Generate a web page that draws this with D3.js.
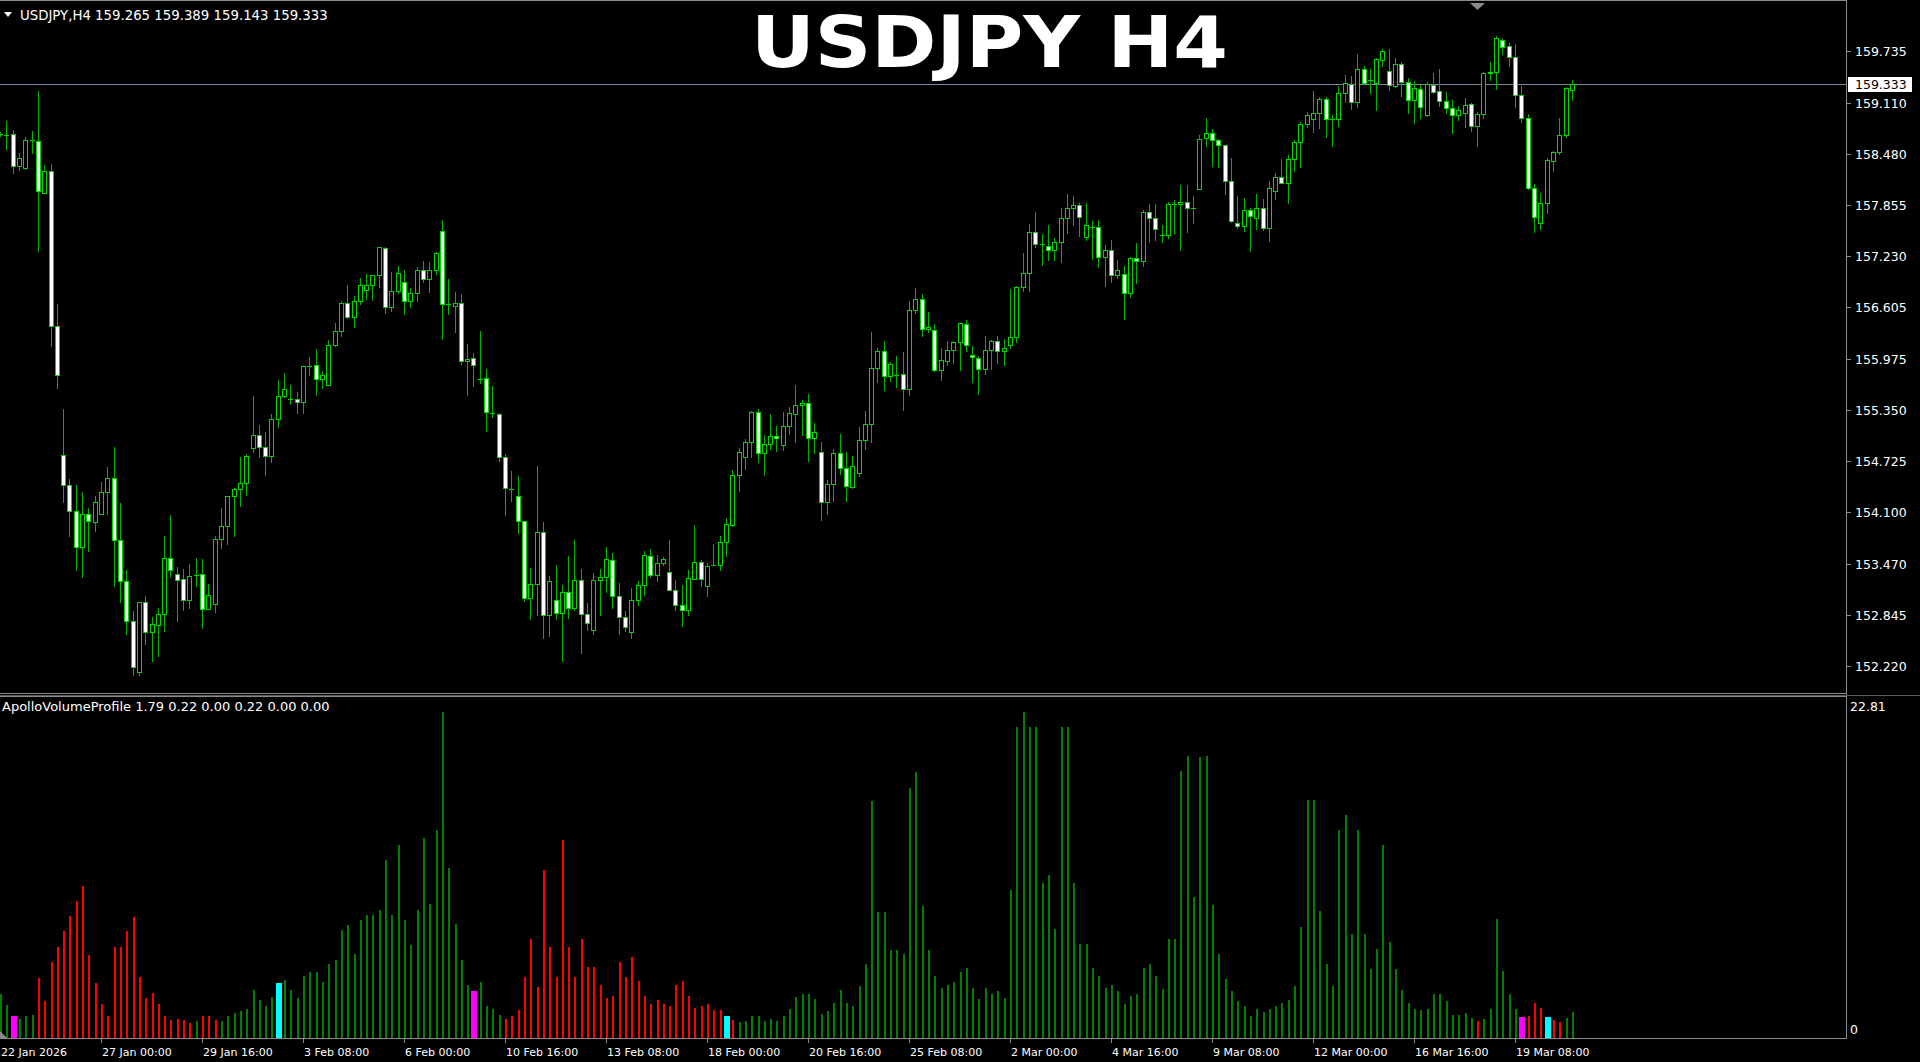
<!DOCTYPE html>
<html><head><meta charset="utf-8">
<script src="https://cdn.jsdelivr.net/npm/d3@7"></script>
<style>html,body{margin:0;padding:0;background:#000;overflow:hidden}</style>
</head><body>
<svg id="chart" width="1920" height="1062"></svg>
<script>
// ---------------- DATA ----------------
const symbolTitle = "USDJPY H4";
const headerText = "USDJPY,H4  159.265 159.389 159.143 159.333";
const indicatorText = "ApolloVolumeProfile 1.79 0.22 0.00 0.22 0.00 0.00";
const currentPrice = 159.333;

const priceTicks = [159.735,159.110,158.480,157.855,157.230,156.605,155.975,155.350,154.725,154.100,153.470,152.845,152.220];
const timeLabels = ["22 Jan 2026","27 Jan 00:00","29 Jan 16:00","3 Feb 08:00","6 Feb 00:00","10 Feb 16:00","13 Feb 08:00","18 Feb 00:00","20 Feb 16:00","25 Feb 08:00","2 Mar 00:00","4 Mar 16:00","9 Mar 08:00","12 Mar 00:00","16 Mar 16:00","19 Mar 08:00"];
const timeLabelBars = [0,16,32,48,64,80,96,112,128,144,160,176,192,208,224,240];
const volumeAxisMax = 22.81;

const opens = [158.72,158.71,158.72,158.33,158.313,158.65,158.642,158.007,158.276,156.379,
154.803,154.432,154.121,153.676,154.075,153.982,154.084,154.353,154.52,153.76,
153.259,152.772,152.146,153.008,152.637,152.716,152.855,153.537,153.342,153.287,
153.027,153.33,153.342,152.911,152.98,153.769,153.931,154.293,154.386,154.455,
154.882,155.049,154.896,154.783,155.243,155.516,155.484,155.484,155.443,155.89,
155.895,155.732,155.659,156.148,156.311,156.657,156.49,156.685,156.82,156.881,
156.995,157.333,156.612,156.811,156.913,156.677,156.779,157.064,156.95,157.064,
157.54,156.645,156.628,156.657,155.944,155.985,155.732,155.74,155.31,155.3,
154.771,154.388,154.294,153.989,153.052,153.223,153.854,152.84,153.032,152.869,
153.121,152.93,153.272,152.861,152.665,153.276,153.305,153.516,153.081,152.82,
152.637,153.032,153.207,153.569,153.337,153.48,153.366,153.154,152.963,152.91,
153.288,153.488,153.195,153.46,153.46,153.736,153.948,154.551,154.779,154.958,
155.321,154.824,154.934,155.027,154.918,155.149,155.30,155.406,155.434,155.007,
154.832,154.229,154.449,154.823,154.636,154.404,154.579,154.986,155.182,155.862,
156.066,155.768,155.78,155.789,155.605,156.567,156.705,156.338,156.33,155.842,
155.944,156.078,156.18,156.404,156.021,155.992,155.85,156.086,156.188,156.074,
156.147,156.237,156.852,157.023,157.532,157.377,157.357,157.304,157.41,157.695,
157.817,157.854,157.471,157.593,157.593,157.218,157.308,156.995,157.011,156.779,
157.206,157.174,157.776,157.695,157.491,157.491,157.866,157.866,157.891,157.817,
158.054,158.673,158.734,158.652,158.591,158.151,157.642,157.601,157.797,157.703,
157.825,157.581,158.029,158.204,158.123,158.42,158.624,158.844,158.905,158.986,
159.149,158.913,158.913,159.223,159.337,159.121,159.52,159.386,159.353,159.63,
159.5,159.312,159.581,159.365,159.141,159.28,158.958,159.325,159.251,159.129,
159.047,158.958,158.978,159.088,158.824,158.966,159.467,159.487,159.874,159.801,
159.663,159.202,158.917,158.062,157.634,157.879,158.4,158.502,158.714,159.265];

const highs = [158.75,158.88,158.78,158.49,158.684,158.76,159.245,158.34,158.36,156.648,
155.359,154.502,154.432,154.353,154.154,154.293,154.464,154.65,154.896,154.21,
153.388,152.888,153.008,153.073,152.823,152.925,153.806,154.07,153.435,153.412,
153.472,153.546,153.528,153.226,153.806,154.154,154.293,154.4,154.78,154.817,
155.522,155.164,155.08,155.304,155.716,155.801,155.659,155.569,155.887,155.993,
156.099,155.822,156.201,156.412,156.685,156.873,156.746,156.962,157.011,157.003,
157.349,157.349,157.036,157.113,157.064,156.84,157.097,157.174,157.154,157.288,
157.675,156.95,156.791,156.771,156.16,156.046,156.319,155.854,155.646,155.313,
154.812,154.6,154.539,153.997,153.419,154.665,153.981,153.325,153.459,153.207,
153.561,153.765,153.406,152.991,153.358,153.41,153.675,153.602,153.235,152.897,
153.174,153.256,153.622,153.651,153.582,153.557,153.765,153.276,153.207,153.398,
153.94,153.52,153.48,153.712,153.814,154.03,154.612,154.885,154.995,155.341,
155.361,155.048,155.3,155.15,155.325,155.385,155.658,155.467,155.548,155.19,
154.962,154.498,154.872,155.06,154.84,154.783,155.141,155.332,156.302,156.106,
156.188,155.943,156.005,156.058,156.677,156.839,156.77,156.554,156.404,156.106,
156.188,156.2,156.42,156.452,156.135,156.005,156.249,156.208,156.249,156.216,
156.827,156.872,157.267,157.626,157.768,157.503,157.614,157.451,157.825,157.988,
157.972,157.882,157.878,157.663,157.675,157.369,157.43,157.186,157.117,157.227,
157.389,157.797,157.866,157.866,157.614,157.891,157.919,158.102,158.102,157.972,
158.713,158.917,158.787,158.66,158.591,158.428,157.968,157.948,157.817,157.988,
157.932,158.151,158.245,158.416,158.469,158.652,158.876,158.999,159.251,159.182,
159.182,158.958,159.312,159.447,159.434,159.699,159.561,159.52,159.658,159.764,
159.764,159.658,159.61,159.406,159.378,159.325,159.357,159.475,159.516,159.235,
159.141,159.068,159.162,159.1,158.999,159.483,159.601,159.923,159.882,159.842,
159.825,159.312,158.966,158.115,158.009,158.428,158.522,158.917,159.296,159.389];

const lows = [158.70,158.545,158.25,158.29,158.30,158.49,157.293,157.998,156.134,155.624,
154.223,153.815,153.398,153.305,153.63,153.876,154.08,154.084,153.203,153.008,
152.61,152.113,152.113,152.484,152.285,152.345,152.646,153.305,152.772,152.902,
152.934,153.194,152.684,152.911,152.879,153.667,153.713,153.806,154.177,154.307,
154.835,154.77,154.559,154.714,155.146,155.504,155.423,155.313,155.313,155.781,
155.537,155.618,155.659,156.135,156.249,156.473,156.363,156.644,156.71,156.693,
156.86,156.534,156.555,156.779,156.522,156.608,156.685,156.913,156.799,157.011,
156.221,156.53,156.298,155.911,155.528,155.638,155.679,155.097,155.26,154.73,
154.062,154.241,153.846,153.011,152.80,152.84,152.563,152.584,152.80,152.278,
152.808,152.91,152.38,152.665,152.612,152.849,153.125,152.93,152.612,152.645,
152.563,152.971,153.085,153.305,153.264,153.46,153.154,152.91,152.706,152.849,
153.288,153.195,153.073,153.45,153.398,153.561,153.928,154.364,154.632,154.771,
154.714,154.551,154.877,154.844,154.865,155.06,154.958,155.047,154.722,154.823,
154.001,154.082,154.233,154.571,154.233,154.396,154.538,154.872,154.958,155.687,
155.589,155.699,155.63,155.353,155.536,156.542,156.249,156.298,155.821,155.711,
155.903,155.931,155.842,156.066,155.687,155.548,155.789,155.85,155.923,155.903,
156.106,156.176,156.811,156.811,157.349,157.125,157.186,157.186,157.166,157.512,
157.614,157.483,157.43,157.198,157.104,156.872,156.913,156.962,156.465,156.738,
156.901,157.117,157.41,157.43,157.402,157.459,157.512,157.308,157.524,157.634,
158.054,158.583,158.339,158.326,157.988,157.654,157.581,157.54,157.296,157.565,
157.552,157.418,157.932,158.123,157.878,158.273,158.326,158.815,158.754,158.795,
158.693,158.579,158.824,159.133,159.027,159.052,159.337,159.223,159.019,159.557,
159.263,159.296,159.19,158.978,158.864,158.917,158.946,159.223,159.072,158.978,
158.742,158.897,158.815,158.766,158.583,158.917,159.386,159.272,159.703,159.557,
159.052,158.876,158.05,157.524,157.565,157.765,158.278,158.481,158.685,159.143];

const closes = [158.72,158.71,158.33,158.43,158.652,158.65,158.026,158.276,156.379,155.777,
154.432,154.121,153.676,154.075,153.991,154.223,154.353,154.52,153.76,153.259,
152.772,152.206,153.008,152.637,152.73,152.855,153.546,153.398,153.273,153.027,
153.319,153.33,152.911,153.087,153.769,153.931,154.293,154.386,154.455,154.789,
155.049,154.896,154.789,155.243,155.516,155.61,155.484,155.443,155.887,155.89,
155.732,155.781,156.148,156.311,156.657,156.49,156.685,156.873,156.881,156.995,
157.341,156.612,156.811,157.031,156.677,156.779,157.064,156.95,157.064,157.268,
156.649,156.645,156.657,155.944,155.972,155.895,155.732,155.321,155.31,154.779,
154.396,154.388,153.997,153.052,153.223,153.854,152.84,153.256,152.869,153.121,
152.93,153.276,152.861,152.747,153.276,153.309,153.529,153.081,152.82,152.698,
153.032,153.207,153.582,153.337,153.476,153.529,153.154,152.963,152.905,153.296,
153.488,153.288,153.447,153.46,153.736,153.956,154.551,154.836,154.958,155.321,
154.824,154.934,155.027,155.007,155.15,155.312,155.406,155.434,155.007,155.076,
154.229,154.449,154.823,154.636,154.416,154.669,154.986,155.182,155.862,156.066,
155.768,155.915,155.78,155.605,156.567,156.705,156.338,156.371,155.842,155.956,
156.078,156.18,156.412,156.139,155.996,155.85,156.086,156.188,156.074,156.106,
156.237,156.852,157.023,157.532,157.377,157.377,157.304,157.41,157.695,157.817,
157.854,157.715,157.614,157.593,157.218,157.308,156.995,157.06,156.779,157.206,
157.174,157.776,157.703,157.565,157.491,157.866,157.866,157.891,157.817,157.817,
158.66,158.734,158.652,158.591,158.151,157.662,157.601,157.797,157.724,157.825,
157.581,158.062,158.204,158.123,158.42,158.624,158.848,158.958,158.986,159.149,
158.905,158.913,159.223,159.353,159.121,159.52,159.353,159.386,159.638,159.744,
159.325,159.577,159.365,159.141,159.284,159.06,159.333,159.243,159.129,159.047,
158.958,159.019,159.076,158.824,158.966,159.467,159.487,159.903,159.793,159.671,
159.202,158.917,158.062,157.716,157.879,158.408,158.51,158.714,159.284,159.333];

const volumes = [3.10,2.29,1.56,1.33,1.52,1.61,4.20,2.61,5.30,6.37,
7.46,8.56,9.61,10.66,5.83,3.87,2.36,1.52,6.34,6.34,
7.46,8.49,4.25,2.82,3.15,2.36,1.52,1.24,1.35,1.28,
1.05,1.17,1.56,1.52,1.24,1.17,1.56,1.73,1.89,2.05,
3.34,2.64,2.24,2.89,3.87,4.08,3.34,2.78,4.36,4.64,
4.64,3.92,5.16,5.44,7.58,7.88,5.90,8.23,8.63,8.63,
8.98,12.43,8.63,13.48,8.28,6.48,8.98,14.00,9.35,14.53,
22.81,11.92,7.95,5.44,3.69,3.27,3.92,2.22,2.05,1.59,
1.33,1.52,1.94,4.27,6.93,3.57,11.73,6.37,4.27,13.83,
6.37,4.27,6.93,4.95,4.95,3.73,2.80,2.96,5.32,4.27,
5.67,3.99,2.92,2.40,2.64,2.36,2.26,3.69,3.97,2.92,
2.10,2.26,2.40,1.94,1.94,1.56,1.28,1.10,1.21,1.56,
1.56,1.21,1.35,1.21,1.52,2.05,2.87,3.10,3.10,2.71,
1.70,1.87,2.47,3.38,2.47,2.22,3.64,5.20,16.56,8.79,
8.79,6.18,6.18,5.85,17.52,18.61,9.26,6.18,4.36,3.50,
3.69,3.92,4.62,4.92,3.50,2.75,3.52,3.10,3.27,2.80,
10.38,21.74,22.81,21.74,21.74,10.87,11.38,7.63,21.74,21.74,
10.87,6.55,6.55,4.92,4.36,3.50,3.69,3.27,2.38,2.94,
3.10,4.92,5.20,4.36,3.43,6.90,6.90,18.66,19.71,9.87,
19.66,19.71,9.33,5.85,4.13,3.31,2.59,2.22,1.56,2.03,
1.80,2.03,2.22,2.45,2.64,3.62,7.77,16.63,16.63,8.86,
5.20,3.62,14.53,15.58,7.30,14.58,7.30,4.85,6.25,13.53,
6.74,4.85,3.38,2.47,2.05,1.94,2.05,3.10,3.10,2.59,
1.59,1.59,1.77,1.40,1.17,1.35,2.05,8.35,4.69,3.10,
2.05,1.45,1.56,2.43,2.12,1.45,1.24,1.10,1.40,1.79];

// colour state of each volume bar, run-length: [state, count]
const volumeStateRuns = [["up",2],["flipDown",1],["up",3],["down",25],["up",1],["down",3],["up",9],["flipUp",1],
  ["up",30],["flipDown",1],["up",4],["down",35],["flipUp",1],["down",1],["up",117],["down",1],["up",6],
  ["flipDown",1],["down",3],["flipUp",1],["down",2],["up",2]];

// ---------------- DRAW ----------------
const volumeStates = volumeStateRuns.flatMap(([s,n]) => Array(n).fill(s));
const stateColor = {up:"#008000", down:"#ff0000", flipDown:"#ff00ff", flipUp:"#00ffff"};
const wideState = {flipDown:true, flipUp:true};

const svg = d3.select("#chart");
svg.append("rect").attr("width",1920).attr("height",1062).attr("fill","#000");

const axisX = 1846;
const mainTop = 1, mainBottom = 693, subTop = 697, subBottom = 1038;
const frame = "#8a8a8a";

const x = d3.scaleLinear().domain([0,240]).range([0,1515]);
const y = d3.scaleLinear().domain([152.220,159.735]).range([666,51.4]);
const yv = d3.scaleLinear().domain([0,volumeAxisMax]).range([subBottom,712]);

const defs = svg.append("defs");
defs.append("clipPath").attr("id","clipMain").append("rect")
  .attr("x",0).attr("y",mainTop+1).attr("width",axisX).attr("height",mainBottom-mainTop-1);
defs.append("clipPath").attr("id","clipSub").append("rect")
  .attr("x",0).attr("y",subTop).attr("width",axisX).attr("height",subBottom-subTop);

// frame
const fr = svg.append("g").attr("stroke",frame).attr("stroke-width",1).attr("shape-rendering","crispEdges");
fr.append("line").attr("x1",0).attr("x2",axisX+1).attr("y1",0.5).attr("y2",0.5);
fr.append("line").attr("x1",axisX+0.5).attr("x2",axisX+0.5).attr("y1",0).attr("y2",subBottom+1);
fr.append("line").attr("x1",0).attr("x2",axisX+1).attr("y1",mainBottom+0.5).attr("y2",mainBottom+0.5);
fr.append("line").attr("x1",0).attr("x2",1920).attr("y1",mainBottom+2.5).attr("y2",mainBottom+2.5).attr("stroke","#5a5a5a");
fr.append("line").attr("x1",0).attr("x2",axisX+1).attr("y1",subTop-0.5).attr("y2",subTop-0.5);
fr.append("line").attr("x1",0).attr("x2",axisX+1).attr("y1",subBottom+0.5).attr("y2",subBottom+0.5);

// price axis labels
const pa = svg.append("g").attr("font-family","DejaVu Sans, sans-serif").attr("font-size","12.5px").attr("fill","#ffffff");
priceTicks.forEach(p => {
  const yy = Math.round(y(p));
  fr.append("line").attr("x1",axisX+1).attr("x2",axisX+5).attr("y1",yy+0.5).attr("y2",yy+0.5);
  pa.append("text").attr("x",1855).attr("y",yy+0.5).attr("dy","0.36em").text(p.toFixed(3));
});

// current price line + label
const yc = Math.round(y(currentPrice))+0.5;
svg.append("line").attr("x1",0).attr("x2",axisX).attr("y1",yc).attr("y2",yc)
  .attr("stroke","#778899").attr("stroke-width",1);
svg.append("rect").attr("x",1848).attr("y",yc-7.5).attr("width",64).attr("height",15).attr("fill","#fff");
svg.append("text").attr("x",1855).attr("y",yc).attr("dy","0.36em")
  .attr("font-family","DejaVu Sans, sans-serif").attr("font-size","12.5px").attr("fill","#000").text(currentPrice.toFixed(3));

// candles
const bars = opens.map((o,i) => ({i, o, h:highs[i], l:lows[i], c:closes[i]}));
const cg = svg.append("g").attr("clip-path","url(#clipMain)").attr("shape-rendering","crispEdges");
const cx = d => Math.round(x(d.i));
cg.selectAll("line.wick").data(bars).join("line").attr("class","wick")
  .attr("x1",d=>cx(d)+0.5).attr("x2",d=>cx(d)+0.5)
  .attr("y1",d=>Math.round(y(d.h))).attr("y2",d=>Math.round(y(d.l))+1)
  .attr("stroke","#00b400");
const bodyTop = d => Math.round(y(Math.max(d.o,d.c)));
const bodyBot = d => Math.round(y(Math.min(d.o,d.c)));
cg.selectAll("rect.body").data(bars.filter(d=>bodyBot(d)-bodyTop(d)>=1)).join("rect").attr("class","body")
  .attr("x",d=>cx(d)-1.5).attr("width",4)
  .attr("y",d=>bodyTop(d)+0.5).attr("height",d=>bodyBot(d)-bodyTop(d))
  .attr("fill",d=>d.c<d.o?"#ffffff":"#000000").attr("stroke","#00d800").attr("stroke-width",1);
cg.selectAll("line.doji").data(bars.filter(d=>bodyBot(d)-bodyTop(d)<1)).join("line").attr("class","doji")
  .attr("x1",d=>cx(d)-2).attr("x2",d=>cx(d)+3)
  .attr("y1",d=>bodyTop(d)+0.5).attr("y2",d=>bodyTop(d)+0.5)
  .attr("stroke","#00d800");

// volume histogram
const vg = svg.append("g").attr("clip-path","url(#clipSub)").attr("shape-rendering","crispEdges");
vg.selectAll("rect").data(volumes.map((v,i)=>({i,v,s:volumeStates[i]}))).join("rect")
  .attr("x",d=>wideState[d.s] ? Math.round(x(d.i))-2 : Math.round(x(d.i)))
  .attr("width",d=>wideState[d.s] ? 6 : 2)
  .attr("y",d=>Math.round(yv(d.v)))
  .attr("height",d=>subBottom-Math.round(yv(d.v)))
  .attr("fill",d=>stateColor[d.s]);

// volume axis labels
const va = svg.append("g").attr("font-family","DejaVu Sans, sans-serif").attr("font-size","12.5px").attr("fill","#ffffff");
va.append("text").attr("x",1850).attr("y",711).text(volumeAxisMax.toFixed(2));
va.append("text").attr("x",1850).attr("y",1034).text("0");

// time axis
const ta = svg.append("g").attr("font-family","DejaVu Sans, sans-serif").attr("font-size","11px").attr("fill","#ffffff");
timeLabels.forEach((t,k) => {
  const xx = Math.round(x(timeLabelBars[k]));
  if (k>0) fr.append("line").attr("x1",xx+0.5).attr("x2",xx+0.5).attr("y1",subBottom+1).attr("y2",subBottom+5);
  ta.append("text").attr("x",k===0?1:xx+1).attr("y",1056).text(t);
});

// header
svg.append("path").attr("d","M4,12 L12,12 L8,17 Z").attr("fill","#ffffff");
svg.append("text").attr("x",20).attr("y",19.5).attr("font-family","DejaVu Sans, sans-serif")
  .attr("font-size","13.3px").attr("fill","#ffffff").text(headerText);
svg.append("text").attr("x",2).attr("y",711).attr("font-family","DejaVu Sans, sans-serif")
  .attr("font-size","13px").attr("fill","#ffffff").text(indicatorText);

// chart shift marker
svg.append("path").attr("d","M1470,3 L1485,3 L1477.5,10 Z").attr("fill","#8a8a8a");
svg.append("path").attr("d","M0,1031 L7,1038 L0,1038 Z").attr("fill","#8a8a8a");

// title
svg.append("text").attr("x",989.5).attr("y",67).attr("text-anchor","middle")
  .attr("font-family","DejaVu Sans, sans-serif").attr("font-weight","bold").attr("font-size","71px")
  .attr("textLength",477).attr("lengthAdjust","spacingAndGlyphs")
  .attr("fill","#ffffff").text(symbolTitle);
</script>
</body></html>
